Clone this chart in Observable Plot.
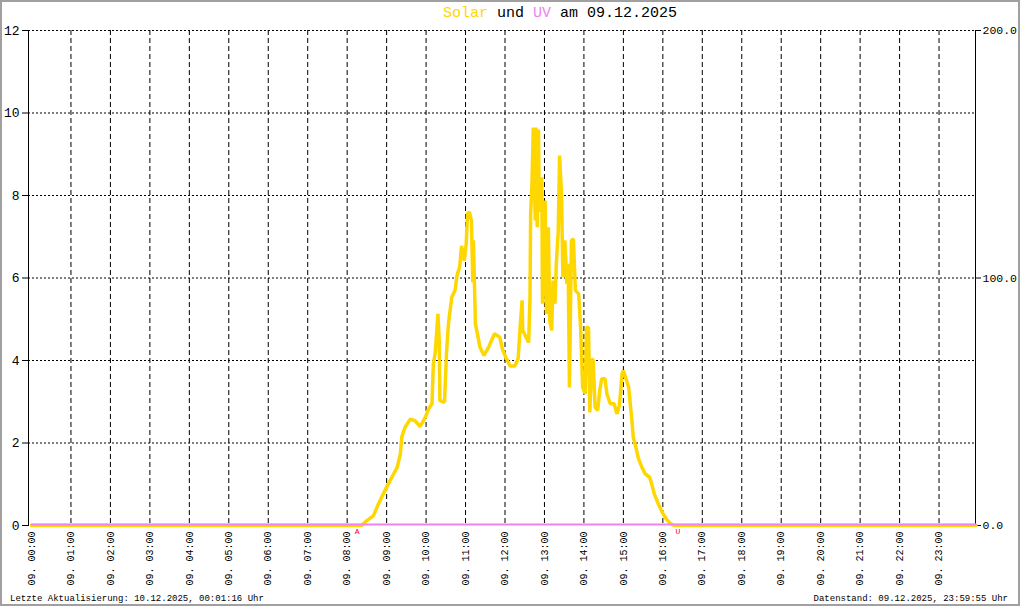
<!DOCTYPE html>
<html>
<head>
<meta charset="utf-8">
<script src="https://cdn.jsdelivr.net/npm/d3@7"></script>
<script src="https://cdn.jsdelivr.net/npm/@observablehq/plot@0.6"></script>
<style>
  html, body { margin: 0; padding: 0; background: #fff; }
  #frame { position: relative; width: 1020px; height: 606px; overflow: hidden; background: #fff; font-family: "Liberation Mono", "DejaVu Sans Mono", monospace; }
  #border { position: absolute; left: 0; top: 0; width: 1020px; height: 606px; box-sizing: border-box; border: 2px solid #a0a0a0; pointer-events: none; }
  #title { height: 24px; line-height: 27px; font-size: 15px; padding-left: 443px; white-space: pre; color: #000; }
  #footer { position: relative; height: 22px; font-size: 9px; line-height: 30px; color: #000; white-space: pre; }
  #footer .l { position: absolute; left: 10px; top: 0; }
  #footer .r { position: absolute; right: 12px; top: 0; }
  svg { display: block; }
</style>
</head>
<body>
<div id="frame">
  <div id="title"></div>
  <div id="chart"></div>
  <div id="footer"></div>
  <div id="border"></div>
</div>
<script>
// ---- data ----
const titleParts = [
  { text: "Solar", color: "#FFD700" },
  { text: " und ", color: "#000000" },
  { text: "UV", color: "#EE82EE" },
  { text: " am 09.12.2025", color: "#000000" }
];
const footerLeft = "Letzte Aktualisierung: 10.12.2025, 00:01:16 Uhr";
const footerRight = "Datenstand: 09.12.2025, 23:59:55 Uhr";

const xTickHours = [0,1,2,3,4,5,6,7,8,9,10,11,12,13,14,15,16,17,18,19,20,21,22,23];
const xTickLabels = ["09. 00:00","09. 01:00","09. 02:00","09. 03:00","09. 04:00","09. 05:00",
  "09. 06:00","09. 07:00","09. 08:00","09. 09:00","09. 10:00","09. 11:00","09. 12:00",
  "09. 13:00","09. 14:00","09. 15:00","09. 16:00","09. 17:00","09. 18:00","09. 19:00",
  "09. 20:00","09. 21:00","09. 22:00","09. 23:00"];
const leftTicks = [0,2,4,6,8,10,12];          // UV index
const rightTicks = [0,100,200];               // Solar W/m²
const rightTickLabels = ["0.0","100.0","200.0"];
const uvMax = 12, solarMax = 200;

const solarTimes = ["00:00","08:22","08:30","08:40","08:48","09:00","09:08","09:16","09:21","09:23",
  "09:28","09:36","09:43","09:51","09:59","10:04","10:09","10:11","10:14","10:18",
  "10:20","10:21","10:28","10:31","10:34","10:39","10:44","10:47","10:51","10:54",
  "10:58","11:01","11:03","11:06","11:09","11:11","11:12","11:15","11:18","11:22",
  "11:28","11:35","11:44","11:52","11:56","12:01","12:08","12:15","12:20","12:23",
  "12:26","12:27","12:33","12:36","12:38","12:39","12:41","12:43","12:46","12:47",
  "12:49","12:51","12:52","12:54","12:56","12:57","13:01","13:03","13:06","13:08",
  "13:11","13:13","13:16","13:18","13:21","13:23","13:26","13:28","13:31","13:34",
  "13:36","13:38","13:41","13:44","13:47","13:52","13:55","13:58","14:02","14:04",
  "14:07","14:09","14:12","14:14","14:17","14:21","14:24","14:27","14:32","14:35",
  "14:40","14:46","14:50","14:54","14:58","15:00","15:04","15:08","15:10","15:13",
  "15:15","15:19","15:23","15:28","15:33","15:40","15:43","15:47","15:53","15:59",
  "16:05","16:11","16:17","23:56"];
const solarValues = [0,0,2,4,9,15.5,19.5,23.5,29,35.7,
  39.7,43,42.4,40,43.8,47.2,49.2,65,70,85.5,
  74.7,50.5,49.8,69.4,81.5,92.2,95,101,104.4,113,
  107,113.8,126,126.6,123.2,98.3,115.2,81.5,77.5,72,
  68.7,72,77.5,76.1,71.4,68,64.4,64.4,67.5,80,
  91,78.8,75.6,74,92.2,126,138,160.8,123.2,160.8,
  120.5,160,128,127,140.7,89.6,131.3,85.5,120.5,82.8,
  78.8,99,89.6,105.7,119.2,149.5,133.3,100.3,115.2,97.7,
  105.7,55.8,115.2,115.8,95,93.6,80,55.9,53.2,80,
  80,45.7,67.4,66.7,47.8,46.5,54.5,59.3,59.3,53.2,
  49.2,49.2,45.1,48.5,61.3,62.6,59.3,55.9,50.5,42.4,
  35.7,31.6,27,23.6,20.9,19.5,16.8,12.8,8.8,5.4,
  2.7,0.9,0,0];

const uvTimes = ["00:00","23:56"];
const uvValues = [0,0];

const sunLabels = ["A","U"];           // Aufgang / Untergang
const sunTimes = ["08:15","16:23"];

// ---- build ----
const toHours = s => { const [h,m] = s.split(":").map(Number); return h + m/60; };
const solar = solarTimes.map((t,i) => ({ h: toHours(t), v: solarValues[i] * uvMax / solarMax }));
const uv = uvTimes.map((t,i) => ({ h: toHours(t), v: uvValues[i] }));
const sun = sunTimes.map((t,i) => ({ h: toHours(t), label: sunLabels[i] }));

const titleEl = document.getElementById("title");
titleParts.forEach(p => { const s = document.createElement("span"); s.textContent = p.text; s.style.color = p.color; titleEl.appendChild(s); });
const fl = document.createElement("span"); fl.className = "l"; fl.textContent = footerLeft;
const fr = document.createElement("span"); fr.className = "r"; fr.textContent = footerRight;
document.getElementById("footer").append(fl, fr);

const gridHours = xTickHours.filter(h => h > 0);
const gridVals = leftTicks.filter(v => v > 0);
const font = "Liberation Mono, DejaVu Sans Mono, monospace";

const chart = Plot.plot({
  width: 1020,
  height: 560,
  marginLeft: 28,
  marginRight: 45,
  marginTop: 6,
  marginBottom: 59,
  x: { type: "linear", domain: [0, 24], insetLeft: 3, insetRight: -3 },
  y: { type: "linear", domain: [0, uvMax] },
  style: { fontFamily: font, color: "#000", background: "transparent", overflow: "visible" },
  marks: [
    Plot.gridX(gridHours, { stroke: "#000", strokeOpacity: 1, strokeDasharray: "5,3", strokeWidth: 1 }),
    Plot.gridY(gridVals, { stroke: "#000", strokeOpacity: 1, strokeDasharray: "2,2", strokeWidth: 1 }),
    Plot.frame({ anchor: "left", stroke: "#000", strokeWidth: 1 }),
    Plot.frame({ anchor: "right", stroke: "#000", strokeWidth: 1 }),
    Plot.axisY(leftTicks, { anchor: "left", tickSize: 6, tickPadding: 3, fontSize: 13, label: null, tickFormat: d => String(d) }),
    Plot.axisY(rightTicks.map(v => v * uvMax / solarMax), { anchor: "right", tickSize: 5, tickPadding: 2, fontSize: 11.5, label: null,
      tickFormat: (d, i) => rightTickLabels[i] }),
    Plot.axisX(xTickHours, { anchor: "bottom", tickSize: 0, tickPadding: 6, tickRotate: -90, fontSize: 10, label: null,
      tickFormat: (d, i) => xTickLabels[i] }),
    Plot.line(solar, { x: "h", y: "v", stroke: "#FFD700", strokeWidth: 3.5, strokeLinejoin: "miter" }),
    Plot.line(uv, { x: "h", y: "v", stroke: "#EE82EE", strokeWidth: 2, dy: -1 }),
    Plot.text(sun, { x: "h", y: 0, text: "label", fill: "#FF0000", fontSize: 8, dy: 6, fontFamily: font })
  ]
});
document.getElementById("chart").appendChild(chart);
</script>
</body>
</html>
